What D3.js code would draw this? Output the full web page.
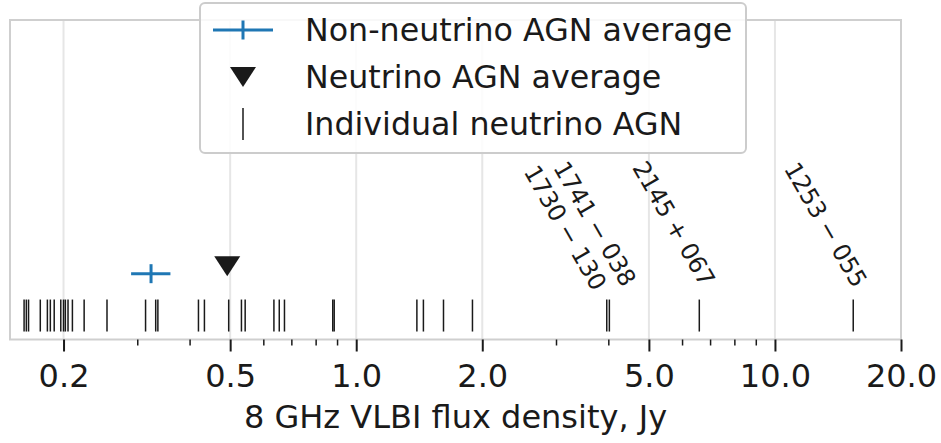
<!DOCTYPE html>
<html><head><meta charset="utf-8">
<script src="https://cdn.jsdelivr.net/npm/d3@7"></script>
<style>body{margin:0;background:#fff} svg{display:block;font-family:"DejaVu Sans",sans-serif}</style>
</head><body><svg id="chart" width="941" height="443"></svg>
<script>
// ---- data ----
const individualFluxes = [0.161, 0.163, 0.165, 0.176, 0.183, 0.186, 0.190, 0.197, 0.200, 0.202, 0.205, 0.210,
  0.224, 0.254, 0.314, 0.332, 0.336, 0.420, 0.434, 0.496, 0.532, 0.543, 0.636, 0.655, 0.674, 0.879, 0.886,
  1.396, 1.447, 1.616, 1.895, 3.966, 4.023, 6.597, 15.38];
const namedSources = ["1730 − 130", "1741 − 038", "2145 + 067", "1253 − 055"];
const namedFluxes = [3.966, 4.023, 6.597, 15.38];
const nonNeutrinoAvg = [0.3236];
const nonNeutrinoRange = [0.290, 0.360];
const neutrinoAvg = [0.492];
const majorTicks = [0.2, 0.5, 1, 2, 5, 10, 20];
const majorTickLabels = ["0.2", "0.5", "1.0", "2.0", "5.0", "10.0", "20.0"];
const minorTicks = [0.3, 0.4, 0.6, 0.7, 0.8, 0.9, 3, 4, 6, 7, 8, 9];
const legendLabels = ["Non-neutrino AGN average", "Neutrino AGN average", "Individual neutrino AGN"];
const xLabel = "8 GHz VLBI flux density, Jy";

// ---- layout ----
const W = 941, H = 443;
const L = 10, R = 901, T = 20, B = 339.5;
const labelOffsets = [[-14, 4], [13, 0], [2, 0], [0, 1]];
const blue = "#1f77b4", dark = "#1a1a1a";

const svg = d3.select("#chart");
const x = d3.scaleLog().domain([0.149, 20]).range([L, R]);
const y = d3.scaleLinear().domain([0, 1]).range([B, T]);
const yInd = 0.075, yNon = 0.206, yNeu = 0.229;

// grid
svg.append("g").selectAll("line").data(majorTicks).join("line")
  .attr("x1", d => x(d)).attr("x2", d => x(d)).attr("y1", T).attr("y2", B)
  .attr("stroke", "#e6e6e6").attr("stroke-width", 2);

// frame
svg.append("rect").attr("x", L).attr("y", T).attr("width", R - L).attr("height", B - T)
  .attr("fill", "none").attr("stroke", "#cfcfcf").attr("stroke-width", 2);

// axis
const axMajor = d3.axisBottom(x).tickValues(majorTicks).tickFormat((d, i) => majorTickLabels[i]).tickSize(12).tickPadding(13);
const gA = svg.append("g").attr("transform", `translate(0,${B})`).call(axMajor);
gA.select(".domain").remove();
gA.selectAll(".tick line").attr("stroke", dark).attr("stroke-width", 2);
gA.selectAll(".tick text").attr("font-size", 32).attr("fill", dark).attr("font-family", "DejaVu Sans");
const axMinor = d3.axisBottom(x).tickValues(minorTicks).tickFormat("").tickSize(6);
const gM = svg.append("g").attr("transform", `translate(0,${B})`).call(axMinor);
gM.select(".domain").remove();
gM.selectAll(".tick line").attr("stroke", dark).attr("stroke-width", 1.5);

svg.append("text").attr("x", (L + R) / 2).attr("y", 428).attr("text-anchor", "middle")
  .attr("font-size", 32).attr("fill", dark).text(xLabel);

// individual ticks
svg.append("g").selectAll("line").data(individualFluxes).join("line")
  .attr("x1", d => x(d)).attr("x2", d => x(d))
  .attr("y1", y(yInd) - 16).attr("y2", y(yInd) + 16)
  .attr("stroke", dark).attr("stroke-width", 1.5);

// labels
svg.append("g").selectAll("text").data(namedSources).join("text")
  .attr("transform", (d, i) => `translate(${x(namedFluxes[i]) + labelOffsets[i][0]},${288 + labelOffsets[i][1]}) rotate(60)`)
  .attr("text-anchor", "end").attr("font-size", 24).attr("letter-spacing", -0.3).attr("fill", dark).text(d => d);

// non-neutrino average
const gN = svg.append("g");
gN.append("line").attr("x1", x(nonNeutrinoRange[0])).attr("x2", x(nonNeutrinoRange[1]))
  .attr("y1", y(yNon)).attr("y2", y(yNon)).attr("stroke", blue).attr("stroke-width", 3);
gN.selectAll("line.v").data(nonNeutrinoAvg).join("line").attr("class", "v")
  .attr("x1", d => x(d)).attr("x2", d => x(d)).attr("y1", y(yNon) - 9.5).attr("y2", y(yNon) + 9.5)
  .attr("stroke", blue).attr("stroke-width", 3);

// neutrino average triangle
const tri = (cx, cy) => `M${cx - 13},${cy - 10}L${cx + 13},${cy - 10}L${cx},${cy + 10}Z`;
svg.append("g").selectAll("path").data(neutrinoAvg).join("path")
  .attr("d", d => tri(x(d), y(yNeu))).attr("fill", dark);

// legend
const lg = svg.append("g");
lg.append("rect").attr("x", 200).attr("y", 3).attr("width", 546).attr("height", 150).attr("rx", 5)
  .attr("fill", "#fff").attr("fill-opacity", 0.85).attr("stroke", "#cccccc").attr("stroke-width", 2);
const rowY = [30, 77, 124];
lg.selectAll("text").data(legendLabels).join("text")
  .attr("x", 305).attr("y", (d, i) => rowY[i]).attr("dy", "0.36em")
  .attr("font-size", 31.7).attr("fill", dark).text(d => d);
lg.append("line").attr("x1", 213).attr("x2", 273).attr("y1", rowY[0]).attr("y2", rowY[0]).attr("stroke", blue).attr("stroke-width", 3);
lg.append("line").attr("x1", 243).attr("x2", 243).attr("y1", rowY[0] - 9.5).attr("y2", rowY[0] + 9.5).attr("stroke", blue).attr("stroke-width", 3);
lg.append("path").attr("d", tri(243, rowY[1])).attr("fill", dark);
lg.append("line").attr("x1", 243).attr("x2", 243).attr("y1", rowY[2] - 16).attr("y2", rowY[2] + 16).attr("stroke", dark).attr("stroke-width", 1.5);
</script></body></html>
